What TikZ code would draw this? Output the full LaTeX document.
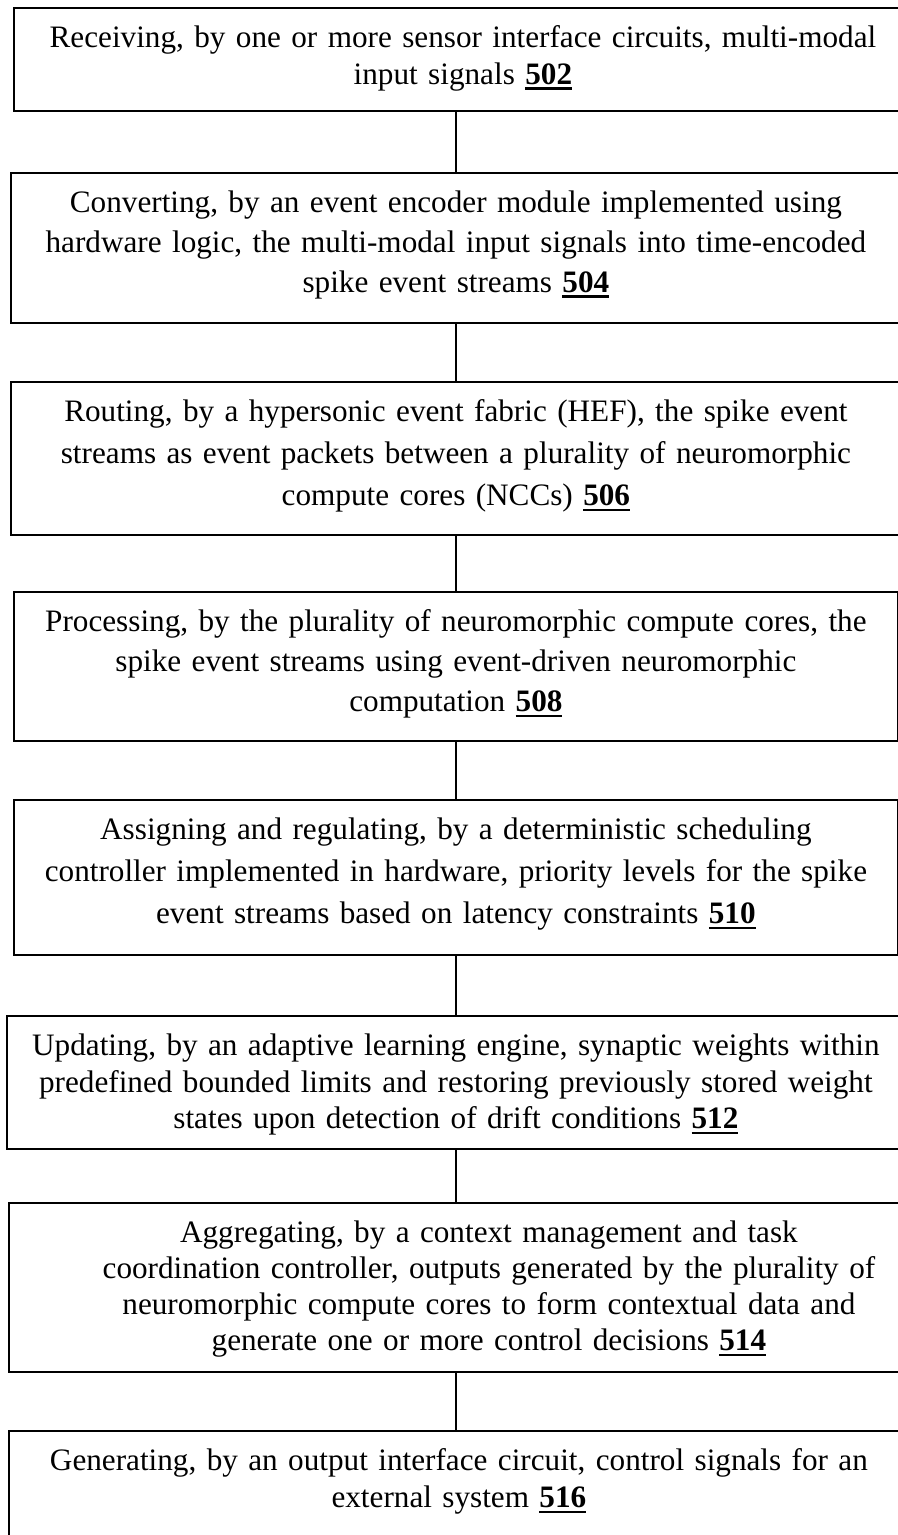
\documentclass[tikz,border=0pt]{standalone}
\usepackage{fontspec}
\setmainfont{Liberation Serif}
\usepackage{tikz}
\newcommand{\refnum}[1]{\setbox0\hbox{\textbf{#1}}\leavevmode\rlap{\rule[-2.6pt]{\wd0}{1.3pt}}\box0}

\begin{document}
\begin{tikzpicture}[x=0.5pt,y=-0.5pt, box/.style n args={3}{draw,line width=0.9pt,anchor=north west,inner xsep=0pt,inner ysep=6pt,text width=#1,text height=14pt,text depth=#2,align=center,font=\fontsize{15.6pt}{#3}\selectfont}]
\useasboundingbox (0,0) rectangle (898,1535);
\coordinate (spine) at (456,0);
\node[box={449pt}{25.5pt}{18.5pt}] (recv) at (13,7) {Receiving, by one or more sensor interface circuits, multi-modal\\input signals \refnum{502}};
\node[box={445pt}{49pt}{20pt}] (conv) at (10,172) {Converting, by an event encoder module implemented using\\hardware logic, the multi-modal input signals into time-encoded\\spike event streams \refnum{504}};
\node[box={445pt}{50.5pt}{21pt}] (route) at (10,381) {Routing, by a hypersonic event fabric (HEF), the spike event\\streams as event packets between a plurality of neuromorphic\\compute cores (NCCs) \refnum{506}};
\node[box={442pt}{48.5pt}{20pt}] (proc) at (13,591) {Processing, by the plurality of neuromorphic compute cores, the\\spike event streams using event-driven neuromorphic\\computation \refnum{508}};
\node[box={442pt}{51.5pt}{21pt}] (sched) at (13,799) {Assigning and regulating, by a deterministic scheduling\\controller implemented in hardware, priority levels for the spike\\event streams based on latency constraints \refnum{510}};
\node[box={449pt}{40.5pt}{18.25pt}] (learn) at (6,1015) {Updating, by an adaptive learning engine, synaptic weights within\\predefined bounded limits and restoring previously stored weight\\states upon detection of drift conditions \refnum{512}};
\node[box={480pt}{58.5pt}{18pt}] (ctx) at (8,1202) {Aggregating, by a context management and task\\coordination controller, outputs generated by the plurality of\\neuromorphic compute cores to form contextual data and\\generate one or more control decisions \refnum{514}};
\node[box={450pt}{31.5pt}{18.5pt}] (out) at (8,1430) {Generating, by an output interface circuit, control signals for an\\external system \refnum{516}};
\draw[line width=0.7pt] (recv.south -| spine)--(conv.north -| spine); \draw[line width=0.7pt] (conv.south -| spine)--(route.north -| spine);
\draw[line width=0.7pt] (route.south -| spine)--(proc.north -| spine); \draw[line width=0.7pt] (proc.south -| spine)--(sched.north -| spine);
\draw[line width=0.7pt] (sched.south -| spine)--(learn.north -| spine); \draw[line width=0.7pt] (learn.south -| spine)--(ctx.north -| spine);
\draw[line width=0.7pt] (ctx.south -| spine)--(out.north -| spine);
\end{tikzpicture}
\end{document}
